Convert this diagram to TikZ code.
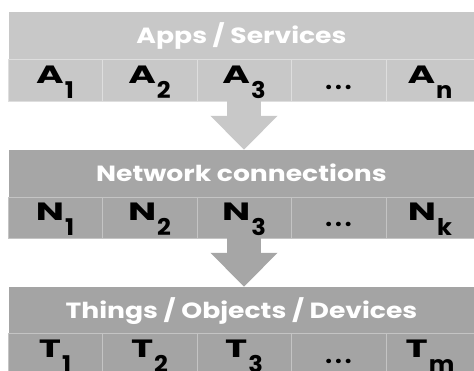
\documentclass[tikz,border=0pt]{standalone}
\usepackage{fontspec}
\setmainfont{Poppins}
\newfontfamily\titlefont{Poppins}[FakeStretch=1.21]
\newfontfamily\letterfont{Poppins}[FakeStretch=1.5]
\newfontfamily\subfont{Poppins}[FakeStretch=1.05]
\usetikzlibrary{arrows.meta}
\definecolor{bandA}{RGB}{200,200,200}
\definecolor{bandB}{RGB}{166,166,166}
\definecolor{bandC}{RGB}{164,164,164}
\definecolor{lineA}{RGB}{222,222,222}
\definecolor{lineB}{RGB}{196,196,196}
\newcommand{\sub}[2]{{\letterfont\fontsize{25}{25}\selectfont\bfseries #1}\hspace{1pt}\raisebox{-15pt}{\subfont\fontsize{23}{23}\selectfont\bfseries #2}}
\newcommand{\dotsx}{\raisebox{-6pt}{\fontsize{24}{24}\selectfont\bfseries .\hspace{3pt}.\hspace{3pt}.}}
\begin{document}
\begin{tikzpicture}[x=1pt,y=-1pt,
  titlebar/.style={fill=#1, draw=none, minimum width=465pt, inner sep=0pt,
    text=white, text height=16pt, text depth=0pt,
    font=\titlefont\fontsize{22}{22}\selectfont\bfseries},
  cellbox/.style={fill=#1, inner sep=0pt, line width=0.8pt,
    text=black, text height=15pt, text depth=9pt},
  fatarrow/.style={draw=#1, line width=34pt,
    -{Triangle[width=65pt,length=34pt]}}
]
\useasboundingbox (0,0) rectangle (474,370);

% ---------- top band ----------
\node[titlebar=bandA, minimum height=47pt] (app) at (241.5,35.5) {Apps / Services};
\foreach \n/\x/\w/\t in {a1/55/94/{\sub{A}{1}}, a2/149.5/95/{\sub{A}{2}}, a3/244/94/{\sub{A}{3}}, a4/338.5/95/{\dotsx}, a5/430/88/{\sub{A}{n}}}
  \node[cellbox=bandA, draw=lineA, minimum width=\w pt, minimum height=42pt] (\n) at (\x,80) {\t};

% ---------- middle band ----------
\node[titlebar=bandB, minimum height=47pt] (net) at (241.5,173.5) {Network connections};
\foreach \n/\x/\w/\t in {n1/55/94/{\sub{N}{1}}, n2/149.5/95/{\sub{N}{2}}, n3/244/94/{\sub{N}{3}}, n4/338.5/95/{\dotsx}, n5/430/88/{\sub{N}{k}}}
  \node[cellbox=bandB, draw=lineB, minimum width=\w pt, minimum height=41pt] (\n) at (\x,217.5) {\t};

% ---------- bottom band ----------
\node[titlebar=bandC, minimum height=46pt] (thg) at (241.5,310) {Things / Objects / Devices};
\foreach \n/\x/\w/\t in {t1/55/94/{\sub{T}{1}}, t2/149.5/95/{\sub{T}{2}}, t3/244/94/{\sub{T}{3}}, t4/338.5/95/{\dotsx}, t5/430/88/{\sub{T}{m}}}
  \node[cellbox=bandC, draw=lineB, minimum width=\w pt, minimum height=42pt] (\n) at (\x,354) {\t};

% ---------- arrows ----------
\draw[fatarrow=bandA] (a3.south) -- (a3.south |- net.north);
\draw[fatarrow=bandB] (n3.south) -- (n3.south |- thg.north);
\end{tikzpicture}
\end{document}
